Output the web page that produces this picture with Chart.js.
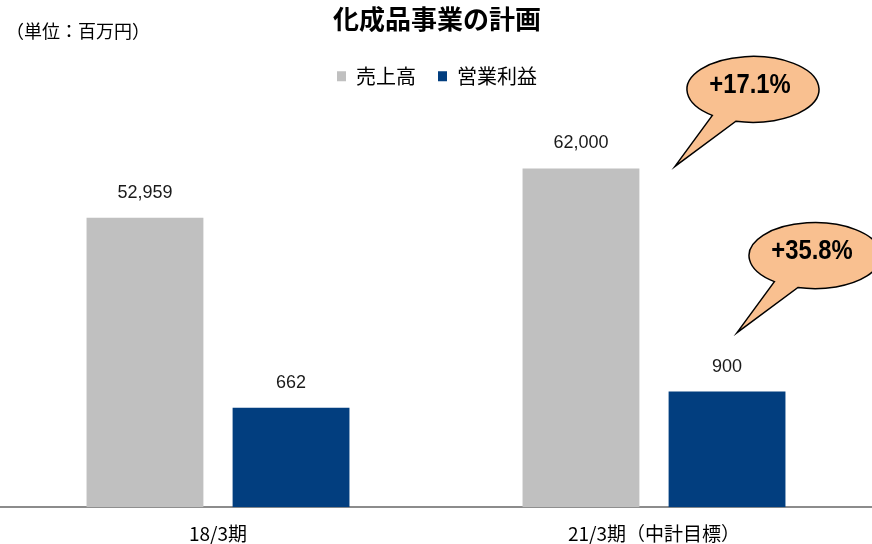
<!DOCTYPE html>
<html lang="ja">
<head>
<meta charset="utf-8">
<script src="https://cdn.jsdelivr.net/npm/chart.js@4"></script>
<style>
  html, body { margin: 0; padding: 0; background: #fff; }
  #wrap { width: 872px; height: 544px; position: relative; }
</style>
</head>
<body>
<div id="wrap"><canvas id="planChart"></canvas></div>
<script>
  // chart data
  const chartTitle = '化成品事業の計画';
  const unitLabel = '（単位：百万円）';
  const categories = ['18/3期', '21/3期（中計目標）'];
  const seriesNames = ['売上高', '営業利益'];
  const salesValues = [52959, 62000];
  const profitValues = [662, 900];
  const growthLabels = ['+17.1%', '+35.8%'];

  const JP_FONT = '"Noto Sans CJK JP", "Noto Sans", sans-serif';
  const NUM_FONT = '"Liberation Sans", Arial, sans-serif';

  // the two series sit on separate hidden scales
  const salesMax = 75209;
  const profitMin = -811;
  const profitMax = 5273;

  // value labels above each bar
  const valueLabels = {
    id: 'valueLabels',
    afterDatasetsDraw(chart) {
      const ctx = chart.ctx;
      ctx.save();
      ctx.font = '18px ' + NUM_FONT;
      ctx.fillStyle = '#1a1a1a';
      ctx.textAlign = 'center';
      ctx.textBaseline = 'middle';
      chart.data.datasets.forEach((ds, i) => {
        chart.getDatasetMeta(i).data.forEach((bar, j) => {
          ctx.fillText(ds.data[j].toLocaleString('en-US'), bar.x, bar.y - 25);
        });
      });
      ctx.restore();
    }
  };

  // unit note in the top left corner
  const unitNote = {
    id: 'unitNote',
    afterDraw(chart) {
      const ctx = chart.ctx;
      ctx.save();
      ctx.font = '18px ' + JP_FONT;
      ctx.fillStyle = '#000';
      ctx.textBaseline = 'middle';
      ctx.fillText(unitLabel, 6, 31);
      ctx.restore();
    }
  };

  // speech bubbles with the growth rates, anchored to the 21/3 bars
  function drawBubble(ctx, tipX, tipY, text) {
    const cx = tipX + 78, cy = tipY - 77, rx = 66, ry = 33;
    const a1 = 128 * Math.PI / 180, a2 = 105 * Math.PI / 180;
    ctx.beginPath();
    ctx.moveTo(tipX, tipY);
    ctx.lineTo(cx + rx * Math.cos(a1), cy + ry * Math.sin(a1));
    ctx.ellipse(cx, cy, rx, ry, 0, a1, a2 + Math.PI * 2);
    ctx.closePath();
    ctx.fillStyle = '#f9c090';
    ctx.fill();
    ctx.lineWidth = 1.5;
    ctx.strokeStyle = '#000';
    ctx.stroke();
    // condensed bold text
    ctx.save();
    ctx.translate(cx - 3, cy - 4);
    ctx.scale(0.85, 1);
    ctx.font = 'bold 28px ' + NUM_FONT;
    ctx.fillStyle = '#000';
    ctx.textAlign = 'center';
    ctx.textBaseline = 'middle';
    ctx.fillText(text, 0, 0);
    ctx.restore();
  }

  const growthBubbles = {
    id: 'growthBubbles',
    afterDraw(chart) {
      const ctx = chart.ctx;
      ctx.save();
      const last = categories.length - 1;
      const salesBar = chart.getDatasetMeta(0).data[last];
      const profitBar = chart.getDatasetMeta(1).data[last];
      drawBubble(ctx, salesBar.x + 94, salesBar.y - 2, growthLabels[0]);
      drawBubble(ctx, profitBar.x + 10, profitBar.y - 59, growthLabels[1]);
      ctx.restore();
    }
  };

  new Chart(document.getElementById('planChart'), {
    type: 'bar',
    data: {
      labels: categories,
      datasets: [
        {
          label: seriesNames[0],
          data: salesValues,
          backgroundColor: '#c0c0c0',
          yAxisID: 'y',
          categoryPercentage: 0.67,
          barPercentage: 0.8
        },
        {
          label: seriesNames[1],
          data: profitValues,
          backgroundColor: '#023e7f',
          yAxisID: 'y2',
          base: profitMin,
          categoryPercentage: 0.67,
          barPercentage: 0.8
        }
      ]
    },
    options: {
      responsive: true,
      maintainAspectRatio: false,
      animation: false,
      layout: { padding: { left: -2, right: -4, top: 0, bottom: -16 } },
      plugins: {
        title: {
          display: true,
          text: chartTitle,
          color: '#000',
          font: { family: JP_FONT, size: 26, weight: 'bold' },
          padding: { top: 4, bottom: 9 }
        },
        legend: {
          display: true,
          position: 'top',
          labels: {
            color: '#000',
            font: { family: JP_FONT, size: 20 },
            boxWidth: 9,
            boxHeight: 10,
            padding: 22
          }
        },
        tooltip: { enabled: false }
      },
      scales: {
        x: {
          grid: { display: false, drawTicks: false },
          border: { display: true, color: '#8c8c8c', width: 2 },
          ticks: {
            color: '#000',
            font: { family: JP_FONT, size: 19 },
            padding: 15
          }
        },
        y: { display: false, min: 0, max: salesMax },
        y2: { display: false, min: profitMin, max: profitMax }
      }
    },
    plugins: [valueLabels, unitNote, growthBubbles]
  });
</script>
</body>
</html>
